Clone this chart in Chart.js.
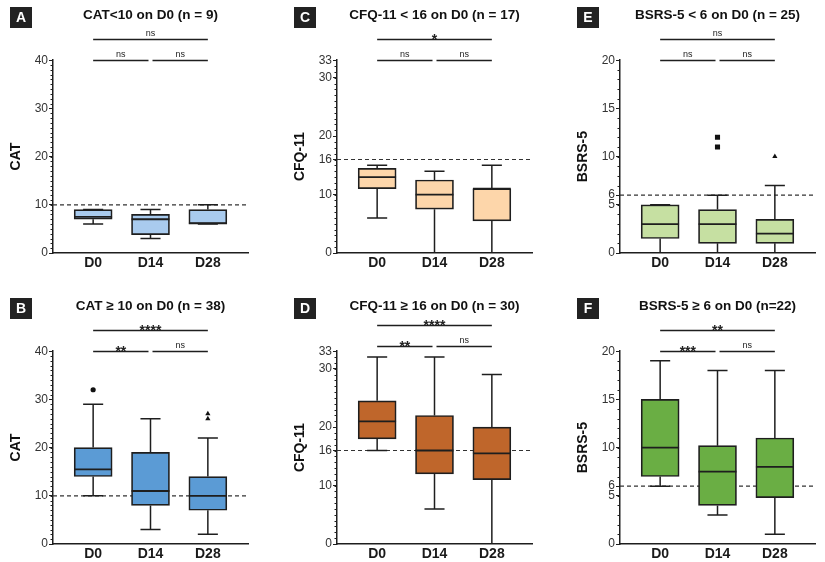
<!DOCTYPE html>
<html>
<head>
<meta charset="utf-8">
<script src="https://cdn.jsdelivr.net/npm/chart.js@4.4.1/dist/chart.umd.min.js"></script>
<style>
  body { margin: 0; background: #fff; width: 825px; height: 562px; position: relative; overflow: hidden; }
  canvas { position: absolute; }
</style>
</head>
<body>
<canvas id="pA" width="275" height="271" style="left:0px;top:0px"></canvas>
<canvas id="pB" width="275" height="271" style="left:0px;top:291px"></canvas>
<canvas id="pC" width="275" height="271" style="left:284px;top:0px"></canvas>
<canvas id="pD" width="275" height="271" style="left:284px;top:291px"></canvas>
<canvas id="pE" width="275" height="271" style="left:567px;top:0px"></canvas>
<canvas id="pF" width="275" height="271" style="left:567px;top:291px"></canvas>
<script>
// data: each box is [min, q1, median, q3, max] for D0, D14, D28
var days = ['D0', 'D14', 'D28'];

var catLowBox = [[6, 7, 7.5, 9, 9], [3, 3.8, 7, 8, 9], [6, 6, 6.2, 9, 10]];
var catLowOut = [[], [], []];
var catHighBox = [[10, 14, 15.5, 20, 29], [3, 8, 11, 19, 26], [2, 7, 10, 14, 22]];
var catHighOut = [[32], [], [26, 27]];

var cfqLowBox = [[6, 11, 13, 14.5, 15], [0, 7.5, 10, 12.5, 14], [0, 5.5, 11, 11, 15]];
var cfqLowOut = [[], [], []];
var cfqHighBox = [[16, 18, 21, 24.5, 32], [6, 12, 16, 22, 32], [0, 11, 15.5, 20, 29]];
var cfqHighOut = [[], [], []];

var bsrsLowBox = [[0, 1.5, 3, 5, 5], [0, 1, 3, 4.5, 6], [0, 1, 2, 3.5, 7]];
var bsrsLowOut = [[], [11, 12], [10]];
var bsrsHighBox = [[6, 7, 10, 15, 19], [3, 4, 7.5, 10.2, 18], [1, 4.8, 8, 11, 18]];
var bsrsHighOut = [[], [], []];

var catTicks = [0, 10, 20, 30, 40];
var cfqTicks = [0, 10, 16, 20, 30, 33];
var bsrsTicks = [0, 5, 6, 10, 15, 20];

var catCut = 10;
var cfqCut = 16;
var bsrsCut = 6;

// significance: D0-D14, D14-D28, D0-D28
var sigA = ['ns', 'ns', 'ns'];
var sigB = ['**', 'ns', '****'];
var sigC = ['ns', 'ns', '*'];
var sigD = ['**', 'ns', '****'];
var sigE = ['ns', 'ns', 'ns'];
var sigF = ['***', 'ns', '**'];

var xMin = -0.7, xMax = 2.7;
var ink = '#1e1e1e';
var outStyles = ['circle', 'rect', 'triangle'];
var outSizes = [2.6, 3.6, 3];

Chart.defaults.font.family = "'Liberation Sans', Arial, sans-serif";
Chart.defaults.color = '#222';

// panel letter, minor ticks and comparison brackets
var panelDecor = {
  id: 'panelDecor',
  afterDraw: function(chart, args, opts) {
    var ctx = chart.ctx;
    var xs = chart.scales.x, ys = chart.scales.y;
    ctx.save();

    // minor ticks
    ctx.strokeStyle = ink;
    ctx.lineWidth = 1;
    for (var v = ys.min; v <= ys.max; v += 1) {
      var py = Math.round(ys.getPixelForValue(v)) + 0.5;
      ctx.beginPath();
      ctx.moveTo(ys.right - 2.5, py);
      ctx.lineTo(ys.right, py);
      ctx.stroke();
    }

    // letter box
    ctx.fillStyle = '#222';
    ctx.fillRect(10, 7, 22, 21);
    ctx.fillStyle = '#fff';
    ctx.font = 'bold 14px "Liberation Sans", Arial, sans-serif';
    ctx.textAlign = 'center';
    ctx.textBaseline = 'middle';
    ctx.fillText(opts.letter, 21, 18);

    // brackets
    var pairs = [[0, 1, 0], [1, 2, 0], [0, 2, 1]];
    var top = ys.getPixelForValue(ys.max) - opts.base;
    ctx.strokeStyle = ink;
    ctx.lineWidth = 1.3;
    ctx.fillStyle = '#222';
    ctx.textBaseline = 'alphabetic';
    pairs.forEach(function(p, k) {
      var y = Math.round(top - p[2] * 21) + 0.5;
      var x1 = xs.getPixelForValue(p[0]) + (p[0] === 1 ? 2 : 0);
      var x2 = xs.getPixelForValue(p[1]) - (p[1] === 1 ? 2 : 0);
      ctx.beginPath();
      ctx.moveTo(x1, y);
      ctx.lineTo(x2, y);
      ctx.stroke();
      var txt = opts.sig[k];
      if (txt === 'ns') {
        ctx.font = '9px "Liberation Sans", Arial, sans-serif';
        ctx.fillText(txt, (x1 + x2) / 2, y - 4);
      } else {
        ctx.font = 'bold 14px "Liberation Sans", Arial, sans-serif';
        ctx.fillText(txt, (x1 + x2) / 2, y + 4);
      }
    });
    ctx.restore();
  }
};

function makePanel(id, letter, title, yTitle, box, outl, ticks, cut, sig, fill, base) {
  var boxData = box.map(function(b, i) { return {x: i, y: [b[1], b[3]]}; });

  var whisk = [];
  var cap = 0.175;
  box.forEach(function(b, i) {
    whisk.push({x: i, y: b[0]}, {x: i, y: b[1]}, {x: i, y: null});
    whisk.push({x: i, y: b[3]}, {x: i, y: b[4]}, {x: i, y: null});
    whisk.push({x: i - cap, y: b[0]}, {x: i + cap, y: b[0]}, {x: i, y: null});
    whisk.push({x: i - cap, y: b[4]}, {x: i + cap, y: b[4]}, {x: i, y: null});
  });

  var med = [];
  var half = 0.33;
  box.forEach(function(b, i) {
    med.push({x: i - half, y: b[2]}, {x: i + half, y: b[2]}, {x: i, y: null});
  });

  var pts = [];
  outl.forEach(function(list, i) {
    list.forEach(function(v) { pts.push({x: i, y: v}); });
  });

  var datasets = [
    {
      type: 'line', data: [{x: xMin, y: cut}, {x: xMax, y: cut}],
      borderColor: '#333', borderWidth: 1.2, borderDash: [4, 3],
      pointRadius: 0, order: 4
    },
    {
      type: 'bar', data: boxData, backgroundColor: fill,
      borderColor: ink, borderWidth: 1.7, borderSkipped: false,
      barThickness: 38, order: 3
    },
    {
      type: 'line', data: whisk, borderColor: ink, borderWidth: 1.5,
      pointRadius: 0, spanGaps: false, order: 2
    },
    {
      type: 'line', data: med, borderColor: ink, borderWidth: 1.8,
      pointRadius: 0, spanGaps: false, order: 1
    },
    {
      type: 'scatter', data: pts, showLine: false,
      backgroundColor: '#111', borderColor: '#111', borderWidth: 0,
      pointStyle: function(c) { return outStyles[c.raw ? c.raw.x : 0]; },
      pointRadius: function(c) { return outSizes[c.raw ? c.raw.x : 0]; },
      order: 0
    }
  ];

  new Chart(document.getElementById(id), {
    type: 'bar',
    data: { datasets: datasets },
    plugins: [panelDecor],
    options: {
      responsive: false,
      animation: false,
      layout: { padding: { left: 0, right: 27, top: 0, bottom: 0 } },
      plugins: {
        legend: { display: false },
        tooltip: { enabled: false },
        title: {
          display: true, text: title, fullSize: false,
          color: '#111',
          font: { size: 13.5, weight: 'bold' },
          padding: { top: 7, bottom: 37 }
        },
        panelDecor: { letter: letter, sig: sig, base: base }
      },
      scales: {
        x: {
          type: 'linear', min: xMin, max: xMax, offset: false,
          afterBuildTicks: function(s) { s.ticks = days.map(function(d, i) { return {value: i}; }); },
          afterFit: function(s) { s.height = 18; },
          ticks: {
            autoSkip: false, padding: 2, color: '#1a1a1a',
            font: { size: 14, weight: 'bold' },
            callback: function(v, i) { return days[i]; }
          },
          grid: { display: false, drawTicks: false },
          border: { color: ink, width: 1.5 }
        },
        y: {
          min: ticks[0], max: ticks[ticks.length - 1],
          afterBuildTicks: function(s) { s.ticks = ticks.map(function(v) { return {value: v}; }); },
          afterFit: function(s) { s.width = 53; },
          ticks: { autoSkip: false, padding: 1, color: '#333', font: { size: 12 } },
          grid: { drawOnChartArea: false, tickLength: 4, color: ink },
          border: { color: ink, width: 1.5 },
          title: {
            display: true, text: yTitle, color: '#111',
            font: { size: 14, weight: 'bold' },
            padding: { top: 8, bottom: 0 }
          }
        }
      }
    }
  });
}

makePanel('pA', 'A', 'CAT<10 on D0 (n = 9)', 'CAT', catLowBox, catLowOut, catTicks, catCut, sigA, '#a9cbee', 0);
makePanel('pB', 'B', 'CAT \u2265 10 on D0 (n = 38)', 'CAT', catHighBox, catHighOut, catTicks, catCut, sigB, '#5b9bd5', 0);
makePanel('pC', 'C', 'CFQ-11 < 16 on D0 (n = 17)', 'CFQ-11', cfqLowBox, cfqLowOut, cfqTicks, cfqCut, sigC, '#fdd6aa', 0);
makePanel('pD', 'D', 'CFQ-11 \u2265 16 on D0 (n = 30)', 'CFQ-11', cfqHighBox, cfqHighOut, cfqTicks, cfqCut, sigD, '#bf662b', 5);
makePanel('pE', 'E', 'BSRS-5 < 6 on D0 (n = 25)', 'BSRS-5', bsrsLowBox, bsrsLowOut, bsrsTicks, bsrsCut, sigE, '#c6e0a2', 0);
makePanel('pF', 'F', 'BSRS-5 \u2265 6 on D0 (n=22)', 'BSRS-5', bsrsHighBox, bsrsHighOut, bsrsTicks, bsrsCut, sigF, '#6aae44', 0);
</script>
</body>
</html>
